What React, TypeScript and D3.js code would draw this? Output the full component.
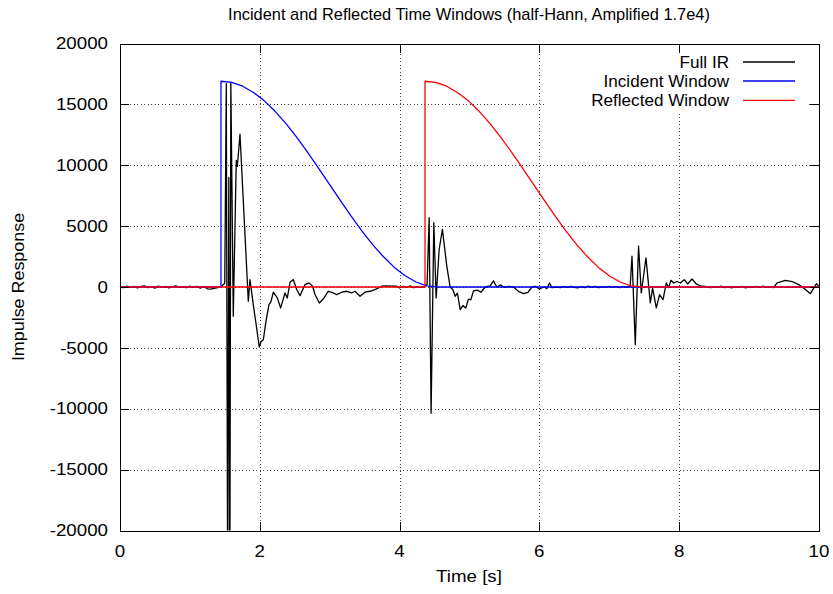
import React from 'react';
import * as d3 from 'd3';

const X_TICKS = [0, 2, 4, 6, 8, 10];
const Y_TICKS = [-20000, -15000, -10000, -5000, 0, 5000, 10000, 15000, 20000];
const TITLE = 'Incident and Reflected Time Windows (half-Hann, Amplified 1.7e4)';
const X_LABEL = 'Time [s]';
const Y_LABEL = 'Impulse Response';
const SERIES_NAMES = ['Full IR', 'Incident Window', 'Reflected Window'];
const SERIES_COLORS = ['#000000', '#0000ff', '#ff0000'];

// Full impulse response [time s, value]
const fullIR: [number, number][] = [
  [0.0, 50], [0.05, -60], [0.1, 80], [0.15, -40], [0.2, 60], [0.25, -80], [0.3, 40], [0.35, 90],
  [0.4, -50], [0.45, 30], [0.5, -90], [0.55, 70], [0.6, -30], [0.65, 50], [0.7, -70], [0.75, 20],
  [0.8, 100], [0.85, -40], [0.9, 30], [0.95, -60], [1.0, 80], [1.05, -20], [1.1, 60], [1.15, -90],
  [1.2, 40], [1.25, -150], [1.3, -180], [1.35, -120], [1.4, -60], [1.45, 40], [1.5, 300],
  [1.522, 16700], [1.542, -26000], [1.558, 9000], [1.573, -26000], [1.587, 16800], [1.622, -2400],
  [1.665, 10400], [1.68, 9900], [1.718, 12550], [1.837, -1170], [1.861, 600], [1.908, -1450],
  [1.947, -3000], [1.994, -4940], [2.019, -4500], [2.052, -4330], [2.09, -2800], [2.133, -1450],
  [2.161, -1200], [2.195, -430], [2.252, -900], [2.3, -1720], [2.362, -490], [2.395, -900],
  [2.434, 390], [2.481, 610], [2.529, -210], [2.577, -710], [2.648, 200], [2.705, 340], [2.758, 60],
  [2.791, -620], [2.853, -1310], [2.92, -900], [2.981, -350], [3.053, -490], [3.102, -620],
  [3.173, -430], [3.245, -350], [3.316, -490], [3.363, -350], [3.435, -760], [3.506, -430],
  [3.578, -350], [3.65, -210], [3.745, 60], [3.817, 100], [3.888, 60], [3.96, 60], [4.0, -80],
  [4.05, 60], [4.1, -40], [4.15, 90], [4.2, -60], [4.25, 40], [4.3, -30], [4.35, 20],
  [4.395, 200], [4.424, 5690], [4.452, -10370], [4.491, 5280], [4.524, -900], [4.567, 3080],
  [4.614, 4730], [4.677, 1700], [4.724, 0], [4.763, -200], [4.796, -760], [4.829, -500],
  [4.868, -1860], [4.906, -1530], [4.949, -1720], [4.986, -1000], [5.021, -1050], [5.058, -320],
  [5.115, -260], [5.164, -430], [5.226, 0], [5.297, 100], [5.344, 500], [5.393, 0], [5.44, 170],
  [5.498, -20], [5.559, 60], [5.631, 0], [5.702, -360], [5.774, -550], [5.837, -440], [5.894, 0],
  [5.941, 60], [6.003, -165], [6.07, 0], [6.109, -130], [6.146, 330], [6.181, -60], [6.252, 0],
  [6.3, -60], [6.35, 50], [6.4, -40], [6.45, 60], [6.5, -30], [6.55, -80], [6.6, 40], [6.65, -50],
  [6.7, 70], [6.75, -20], [6.8, 50], [6.85, -60], [6.9, 30], [6.95, -40], [7.0, 60], [7.05, -30],
  [7.1, 40], [7.15, -50], [7.2, 30], [7.25, -20], [7.3, 60],
  [7.326, 2530], [7.373, -4740], [7.42, 3350], [7.459, -490], [7.526, 2400], [7.588, -1310],
  [7.621, -100], [7.674, -1720], [7.721, -630], [7.77, -1040], [7.817, 330], [7.85, -50],
  [7.884, 550], [7.921, 330], [7.97, 450], [8.017, 330], [8.074, 600], [8.122, 250], [8.185, 660],
  [8.246, 250], [8.303, 100], [8.375, 50], [8.45, -60], [8.5, 40], [8.55, -30], [8.6, 70],
  [8.65, -50], [8.7, 20], [8.75, -80], [8.8, 40], [8.85, -20], [8.9, 60], [8.95, -70], [9.0, 30],
  [9.05, -40], [9.1, 50], [9.15, -30], [9.2, 80], [9.25, -20], [9.3, 40], [9.35, -50],
  [9.402, 330], [9.521, 550], [9.617, 450], [9.711, 200], [9.782, -80], [9.878, -550],
  [9.925, -100], [9.964, 270], [10.0, 50],
];

// Incident half-Hann window [time s, value]
const incidentWindow: [number, number][] = [
  [0, 0], [1.446, 0], [1.446, 16900], [1.601, 16800], [1.756, 16490], [1.911, 15980],
  [2.066, 15290], [2.221, 14430], [2.376, 13420], [2.531, 12290], [2.686, 11060], [2.841, 9770],
  [2.996, 8450], [3.151, 7130], [3.306, 5840], [3.461, 4610], [3.616, 3480], [3.771, 2480],
  [3.926, 1610], [4.081, 920], [4.236, 410], [4.391, 100], [4.546, 0], [10, 0],
];

// Reflected half-Hann window [time s, value]
const reflectedWindow: [number, number][] = [
  [0, 0], [4.365, 0], [4.365, 16900], [4.52, 16800], [4.675, 16490], [4.83, 15980],
  [4.985, 15290], [5.14, 14430], [5.295, 13420], [5.45, 12290], [5.605, 11060], [5.76, 9770],
  [5.915, 8450], [6.07, 7130], [6.225, 5840], [6.38, 4610], [6.535, 3480], [6.69, 2480],
  [6.845, 1610], [7.0, 920], [7.155, 410], [7.31, 100], [7.465, 0], [10, 0],
];

const W = 833;
const H = 594;
const L = 119.9;
const R = 818.9;
const T = 43.5;
const B = 530.5;
const FONT = '"Liberation Sans", Arial, Helvetica, sans-serif';

function Txt({ x, y, sx = 1, anchor = 'start', size = 16, rotate = 0, children }: any) {
  const tr = `translate(${x},${y})` + (rotate ? ` rotate(${rotate})` : '') + ` scale(${sx},1)`;
  return (
    <text transform={tr} textAnchor={anchor} fontSize={size} fontFamily={FONT} fill="#000">
      {children}
    </text>
  );
}

export default function App() {
  const x = d3.scaleLinear().domain([0, 10]).range([L, R]);
  const y = d3.scaleLinear().domain([-20000, 20000]).range([B, T]);
  const line = d3
    .line<[number, number]>()
    .x((d) => x(d[0]))
    .y((d) => y(d[1]));
  const series = [fullIR, incidentWindow, reflectedWindow];
  const tickLen = 9;
  const legendY = [62, 81, 100.3];

  return (
    <svg
      width={W}
      height={H}
      style={{ position: 'absolute', left: 0, top: 0, background: '#fff' }}
    >
      <defs>
        <clipPath id="plot">
          <rect x={L} y={T} width={R - L} height={B - T} />
        </clipPath>
      </defs>
      <rect x={0} y={0} width={W} height={H} fill="#fff" />
      {/* grid */}
      <g stroke="#444" strokeWidth={1} strokeDasharray="1,2.5" shapeRendering="crispEdges">
        {X_TICKS.map((t) => (
          <line key={'gx' + t} x1={Math.round(x(t)) + 0.5} x2={Math.round(x(t)) + 0.5} y1={T} y2={B} />
        ))}
        {Y_TICKS.map((t) => (
          <line key={'gy' + t} x1={L} x2={R} y1={Math.round(y(t)) + 0.5} y2={Math.round(y(t)) + 0.5} />
        ))}
      </g>
      {/* series */}
      <g clipPath="url(#plot)" fill="none" strokeWidth={1.3} strokeLinejoin="round">
        {series.map((s, i) => (
          <path key={i} d={line(s) || ''} stroke={SERIES_COLORS[i]} />
        ))}
      </g>
      {/* opaque key */}
      <rect x={547} y={52} width={262} height={59} fill="#fff" />
      {SERIES_NAMES.map((n, i) => (
        <g key={n}>
          <Txt x={729} y={legendY[i] + 5.7} anchor="end" sx={1.07}>
            {n}
          </Txt>
          <line
            x1={743}
            x2={795}
            y1={legendY[i]}
            y2={legendY[i]}
            stroke={SERIES_COLORS[i]}
            strokeWidth={1.3}
          />
        </g>
      ))}
      {/* border */}
      <rect
        x={Math.round(L) + 0.5}
        y={Math.round(T) + 0.5}
        width={Math.round(R) - Math.round(L)}
        height={Math.round(B) - Math.round(T)}
        fill="none"
        stroke="#000"
        strokeWidth={1}
        shapeRendering="crispEdges"
      />
      {/* ticks */}
      <g stroke="#000" strokeWidth={1} shapeRendering="crispEdges">
        {X_TICKS.map((t) => {
          const px = Math.round(x(t)) + 0.5;
          return (
            <g key={'tx' + t}>
              <line x1={px} x2={px} y1={B} y2={B - tickLen} />
              <line x1={px} x2={px} y1={T} y2={T + tickLen} />
            </g>
          );
        })}
        {Y_TICKS.map((t) => {
          const py = Math.round(y(t)) + 0.5;
          return (
            <g key={'ty' + t}>
              <line x1={L} x2={L + tickLen} y1={py} y2={py} />
              <line x1={R} x2={R - tickLen} y1={py} y2={py} />
            </g>
          );
        })}
      </g>
      {/* tick labels */}
      {X_TICKS.map((t) => (
        <Txt key={'lx' + t} x={x(t)} y={557} anchor="middle" sx={1.17}>
          {String(t)}
        </Txt>
      ))}
      {Y_TICKS.map((t) => (
        <Txt key={'ly' + t} x={108} y={y(t) + 5.7} anchor="end" sx={1.17}>
          {String(t)}
        </Txt>
      ))}
      {/* labels */}
      <Txt x={469} y={20} anchor="middle" sx={1.025}>
        {TITLE}
      </Txt>
      <Txt x={469} y={582} anchor="middle" sx={1.17}>
        {X_LABEL}
      </Txt>
      <Txt x={24} y={287} anchor="middle" rotate={-90} sx={1.12}>
        {Y_LABEL}
      </Txt>
    </svg>
  );
}
